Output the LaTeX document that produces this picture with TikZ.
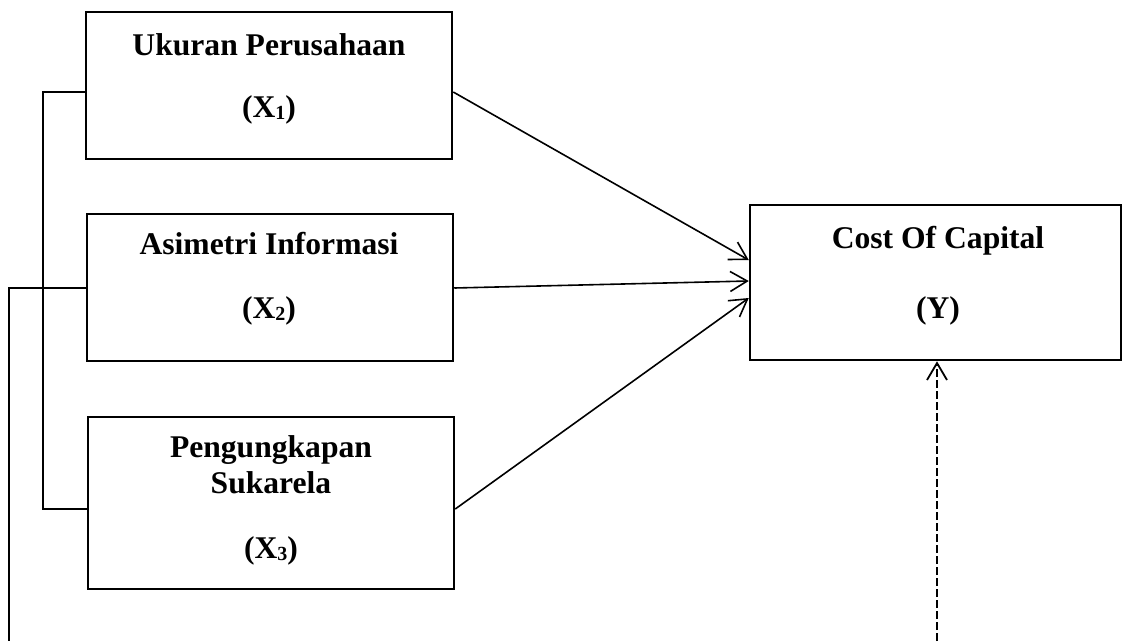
\documentclass[tikz,border=0pt]{standalone}
\usepackage{fontspec}
\setmainfont{Liberation Serif}
\usetikzlibrary{arrows.meta}
\newcommand{\sub}[1]{{\fontsize{20}{20}\selectfont\raisebox{-2.5pt}{#1}}}
\begin{document}
\begin{tikzpicture}[x=1pt,y=-1pt,
  box/.style={draw,line width=2.5pt,inner sep=0pt},
  lbl/.style={anchor=base,inner sep=0pt,font=\fontsize{31.6}{36}\selectfont\bfseries},
  conn/.style={line width=1.6pt},
  arr/.style={conn,-{Straight Barb[length=17pt,width=20pt,line width=1.6pt]}},
  darr/.style={line width=2.2pt,dash pattern=on 8pt off 3pt,-{Straight Barb[length=17pt,width=20pt,line width=1.8pt]}}]
\useasboundingbox (0,0) rectangle (1122,641);
% boxes
\node[box,minimum width=366pt,minimum height=147pt] (b1) at (269,85.5) {};
\node[box,minimum width=366pt,minimum height=147pt] (b2) at (270,287.5) {};
\node[box,minimum width=366pt,minimum height=172pt] (b3) at (271,503) {};
\node[box,minimum width=371pt,minimum height=155pt] (y) at (935.5,282.5) {};
% labels
\node[lbl] (t1a) at (269,55) {Ukuran Perusahaan};
\node[lbl] (t1b) at (269,117) {(X\sub{1})};
\node[lbl] (t2a) at (269,254) {Asimetri Informasi};
\node[lbl] (t2b) at (269,318) {(X\sub{2})};
\node[lbl] (t3a) at (271,457) {Pengungkapan};
\node[lbl] (t3b) at (271,493) {Sukarela};
\node[lbl] (t3c) at (271,558) {(X\sub{3})};
\node[lbl] (tya) at (938,248) {Cost Of Capital};
\node[lbl] (tyb) at (938,318) {(Y)};
% arrows into Y
\draw[arr] ([yshift=-6.5pt]b1.east) -- ([yshift=22.5pt]y.west);
\draw[arr] ([yshift=-0.5pt]b2.east) -- ([yshift=1.5pt]y.west);
\draw[arr] ([yshift=-6pt]b3.east) -- ([yshift=-15.5pt]y.west);
% left connectors
\coordinate (lbot) at (9,641);
\draw[conn] ([yshift=-6.5pt]b1.west) -- ++(-42,0) |- ([yshift=-6pt]b3.west);
\draw[conn] ([yshift=-0.5pt]b2.west) -| (lbot);
% dashed
\coordinate (dbot) at (937,641);
\draw[darr] (dbot) -- (dbot |- y.south);
\end{tikzpicture}
\end{document}
